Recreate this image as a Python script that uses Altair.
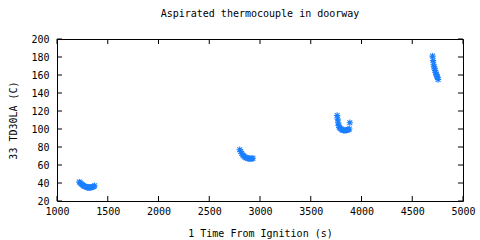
import altair as alt
import pandas as pd

# Data
t1 = [1220, 1230, 1240, 1250, 1260, 1270, 1280, 1290, 1300, 1310, 1320, 1330, 1340, 1350, 1360, 1370]
v1 = [41, 40, 39, 38, 37, 36.5, 36, 35.5, 35, 35, 35, 35, 35.5, 35.5, 36, 37]
t2 = [2800, 2810, 2820, 2830, 2840, 2850, 2860, 2870, 2880, 2890, 2900, 2910, 2920, 2930]
v2 = [77, 75, 73, 71, 70, 69, 68, 68, 67.5, 67, 67, 67, 67, 67.5]
t3 = [3760, 3765, 3770, 3775, 3780, 3790, 3800, 3810, 3820, 3830, 3840, 3850, 3860, 3870, 3880, 3885]
v3 = [115, 111, 107, 104, 102, 100.5, 100, 99, 98.5, 98.5, 98.5, 98.5, 99, 99.5, 100, 107]
t4 = [4700, 4705, 4710, 4715, 4720, 4725, 4730, 4735, 4740, 4745, 4750, 4755]
v4 = [181, 176, 172, 169, 167, 165, 163, 161, 160, 158, 157, 155]

x_ticks = [1000, 1500, 2000, 2500, 3000, 3500, 4000, 4500, 5000]
y_ticks = [20, 40, 60, 80, 100, 120, 140, 160, 180, 200]

title_text = "Aspirated thermocouple in doorway"
x_title = "1 Time From Ignition (s)"
y_title = "33 TD30LA (C)"

df = pd.DataFrame({"t": t1 + t2 + t3 + t4, "v": v1 + v2 + v3 + v4})
xt = pd.DataFrame({"t": x_ticks})
yt = pd.DataFrame({"v": y_ticks})

FONT = "DejaVu Sans Mono"
W, H = 406, 162
TL = 5

xs = alt.Scale(domain=[1000, 5000], nice=False, zero=False)
ys = alt.Scale(domain=[20, 200], nice=False, zero=False)

star = "M-1,0L1,0M0,-1L0,1M-0.75,-0.75L0.75,0.75M-0.75,0.75L0.75,-0.75"

common = dict(labelFont=FONT, labelFontSize=10, labelColor="black",
              titleFont=FONT, titleFontSize=10, titleColor="black",
              titleFontWeight="normal", ticks=False, domain=False, grid=False,
              labelOverlap=False, labelFlush=False, labelBound=False, format="d")
xaxis = alt.Axis(title=x_title, values=x_ticks, labelPadding=5, titlePadding=12, **common)
yaxis = alt.Axis(title=y_title, values=y_ticks, labelPadding=8, titlePadding=12, **common)

points = alt.Chart(df).mark_point(
    shape=star, size=40, color="#1a7fff", strokeWidth=1.1, filled=False, opacity=1
).encode(
    x=alt.X("t:Q", scale=xs, axis=xaxis),
    y=alt.Y("v:Q", scale=ys, axis=yaxis),
)

xb = alt.Chart(xt).mark_rule(color="black", strokeWidth=1).encode(
    x=alt.X("t:Q", scale=xs, axis=xaxis), y=alt.value(H), y2=alt.value(H - TL))
xtop = alt.Chart(xt).mark_rule(color="black", strokeWidth=1).encode(
    x=alt.X("t:Q", scale=xs, axis=xaxis), y=alt.value(0), y2=alt.value(TL))
yl = alt.Chart(yt).mark_rule(color="black", strokeWidth=1).encode(
    y=alt.Y("v:Q", scale=ys, axis=yaxis), x=alt.value(0), x2=alt.value(TL))
yr = alt.Chart(yt).mark_rule(color="black", strokeWidth=1).encode(
    y=alt.Y("v:Q", scale=ys, axis=yaxis), x=alt.value(W), x2=alt.value(W - TL))

chart = alt.layer(points, xb, xtop, yl, yr).properties(
    width=W, height=H,
    background="white",
    title=alt.TitleParams(title_text, font=FONT, fontSize=10, fontWeight="normal",
                          color="black", offset=15, anchor="middle"),
    autosize=alt.AutoSizeParams(type="none"),
    padding={"left": 57, "top": 39, "right": 17, "bottom": 39},
).configure_view(stroke="black", strokeWidth=1)

chart.save("out.html", embed_options={"renderer": "svg", "actions": False})
